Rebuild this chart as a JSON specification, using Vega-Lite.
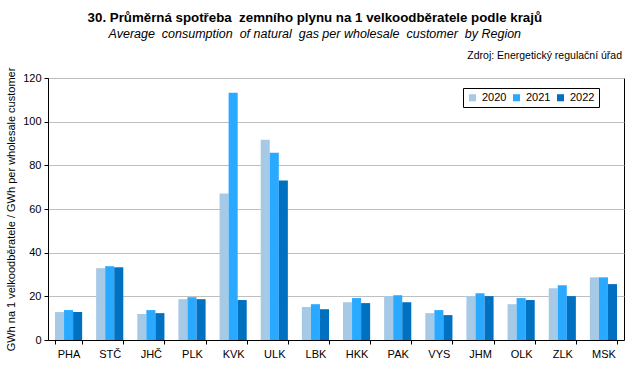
{
  "$schema": "https://vega.github.io/schema/vega-lite/v6.json",
  "width": 576,
  "height": 262,
  "padding": {"left": 5, "top": 11, "right": 15, "bottom": 5},
  "background": "white",
  "title": {
    "text": "30. Průměrná spotřeba\u00a0 zemního plynu na 1 velkoodběratele podle krajů",
    "subtitle": "Average\u00a0 consumption\u00a0 of natural\u00a0 gas per wholesale\u00a0 customer\u00a0 by Region",
    "anchor": "middle",
    "frame": "bounds",
    "font": "Liberation Sans",
    "fontSize": 13.3,
    "fontWeight": "bold",
    "color": "black",
    "subtitleFont": "Liberation Sans",
    "subtitleFontSize": 12.5,
    "subtitleFontStyle": "italic",
    "subtitleColor": "black",
    "subtitlePadding": 4,
    "offset": 10
  },
  "config": {
    "font": "Liberation Sans",
    "view": {"stroke": "black", "strokeWidth": 1}
  },
  "data": {
    "values": [
      {"kraj": "PHA", "rok": "2020", "v": 12.8}, {"kraj": "PHA", "rok": "2021", "v": 13.7}, {"kraj": "PHA", "rok": "2022", "v": 12.8},
      {"kraj": "STČ", "rok": "2020", "v": 32.9}, {"kraj": "STČ", "rok": "2021", "v": 33.8}, {"kraj": "STČ", "rok": "2022", "v": 33.3},
      {"kraj": "JHČ", "rok": "2020", "v": 11.9}, {"kraj": "JHČ", "rok": "2021", "v": 13.7}, {"kraj": "JHČ", "rok": "2022", "v": 12.3},
      {"kraj": "PLK", "rok": "2020", "v": 18.7}, {"kraj": "PLK", "rok": "2021", "v": 19.6}, {"kraj": "PLK", "rok": "2022", "v": 18.7},
      {"kraj": "KVK", "rok": "2020", "v": 67.1}, {"kraj": "KVK", "rok": "2021", "v": 113.2}, {"kraj": "KVK", "rok": "2022", "v": 18.3},
      {"kraj": "ULK", "rok": "2020", "v": 91.7}, {"kraj": "ULK", "rok": "2021", "v": 85.8}, {"kraj": "ULK", "rok": "2022", "v": 73.0},
      {"kraj": "LBK", "rok": "2020", "v": 15.1}, {"kraj": "LBK", "rok": "2021", "v": 16.4}, {"kraj": "LBK", "rok": "2022", "v": 14.1},
      {"kraj": "HKK", "rok": "2020", "v": 17.3}, {"kraj": "HKK", "rok": "2021", "v": 19.2}, {"kraj": "HKK", "rok": "2022", "v": 16.9},
      {"kraj": "PAK", "rok": "2020", "v": 20.1}, {"kraj": "PAK", "rok": "2021", "v": 20.5}, {"kraj": "PAK", "rok": "2022", "v": 17.3},
      {"kraj": "VYS", "rok": "2020", "v": 12.3}, {"kraj": "VYS", "rok": "2021", "v": 13.7}, {"kraj": "VYS", "rok": "2022", "v": 11.4},
      {"kraj": "JHM", "rok": "2020", "v": 20.1}, {"kraj": "JHM", "rok": "2021", "v": 21.4}, {"kraj": "JHM", "rok": "2022", "v": 20.1},
      {"kraj": "OLK", "rok": "2020", "v": 16.4}, {"kraj": "OLK", "rok": "2021", "v": 19.2}, {"kraj": "OLK", "rok": "2022", "v": 18.3},
      {"kraj": "ZLK", "rok": "2020", "v": 23.7}, {"kraj": "ZLK", "rok": "2021", "v": 25.1}, {"kraj": "ZLK", "rok": "2022", "v": 20.1},
      {"kraj": "MSK", "rok": "2020", "v": 28.7}, {"kraj": "MSK", "rok": "2021", "v": 28.7}, {"kraj": "MSK", "rok": "2022", "v": 25.6}
    ]
  },
  "layer": [
    {
      "mark": {"type": "bar"},
      "encoding": {
        "x": {
          "field": "kraj",
          "type": "nominal",
          "sort": null,
          "scale": {"paddingInner": 0.34, "paddingOuter": 0.17},
          "axis": {
            "title": null,
            "labelAngle": 0,
            "labelFontSize": 11,
            "labelColor": "black",
            "labelPadding": 4,
            "domainColor": "black",
            "tickColor": "black",
            "tickBand": "extent",
            "tickSize": 4
          }
        },
        "xOffset": {"field": "rok", "type": "nominal", "scale": {"paddingInner": 0}},
        "y": {
          "field": "v",
          "type": "quantitative",
          "scale": {"domain": [0, 120], "nice": false},
          "axis": {
            "title": "GWh na 1 velkoodběratele / GWh per wholesale customer",
            "titleFontSize": 11,
            "titleFontWeight": "normal",
            "titleColor": "black",
            "titlePadding": 6,
            "values": [0, 20, 40, 60, 80, 100, 120],
            "labelFontSize": 11,
            "labelColor": "black",
            "labelPadding": 3,
            "domainColor": "black",
            "tickColor": "black",
            "tickSize": 4,
            "gridColor": "#BFBFBF",
            "gridWidth": 1
          }
        },
        "color": {
          "field": "rok",
          "type": "nominal",
          "scale": {"domain": ["2020", "2021", "2022"], "range": ["#A6CAE6", "#29A9FF", "#0070C0"]},
          "legend": {
            "title": null,
            "orient": "none",
            "legendX": 415,
            "legendY": 10,
            "direction": "horizontal",
            "symbolType": "square",
            "symbolSize": 50,
            "symbolStrokeWidth": 0,
            "labelFontSize": 11,
            "labelColor": "black",
            "labelOffset": 4,
            "columnPadding": 4,
            "padding": 4,
            "strokeColor": "black",
            "fillColor": "white"
          }
        }
      }
    },
    {
      "data": {"values": [{"note": "Zdroj: Energetický regulační úřad"}]},
      "mark": {"type": "text", "align": "right", "baseline": "middle", "fontSize": 10.5, "color": "black", "font": "Liberation Sans"},
      "encoding": {
        "text": {"field": "note"},
        "x": {"value": 574},
        "y": {"value": -22}
      }
    }
  ]
}
